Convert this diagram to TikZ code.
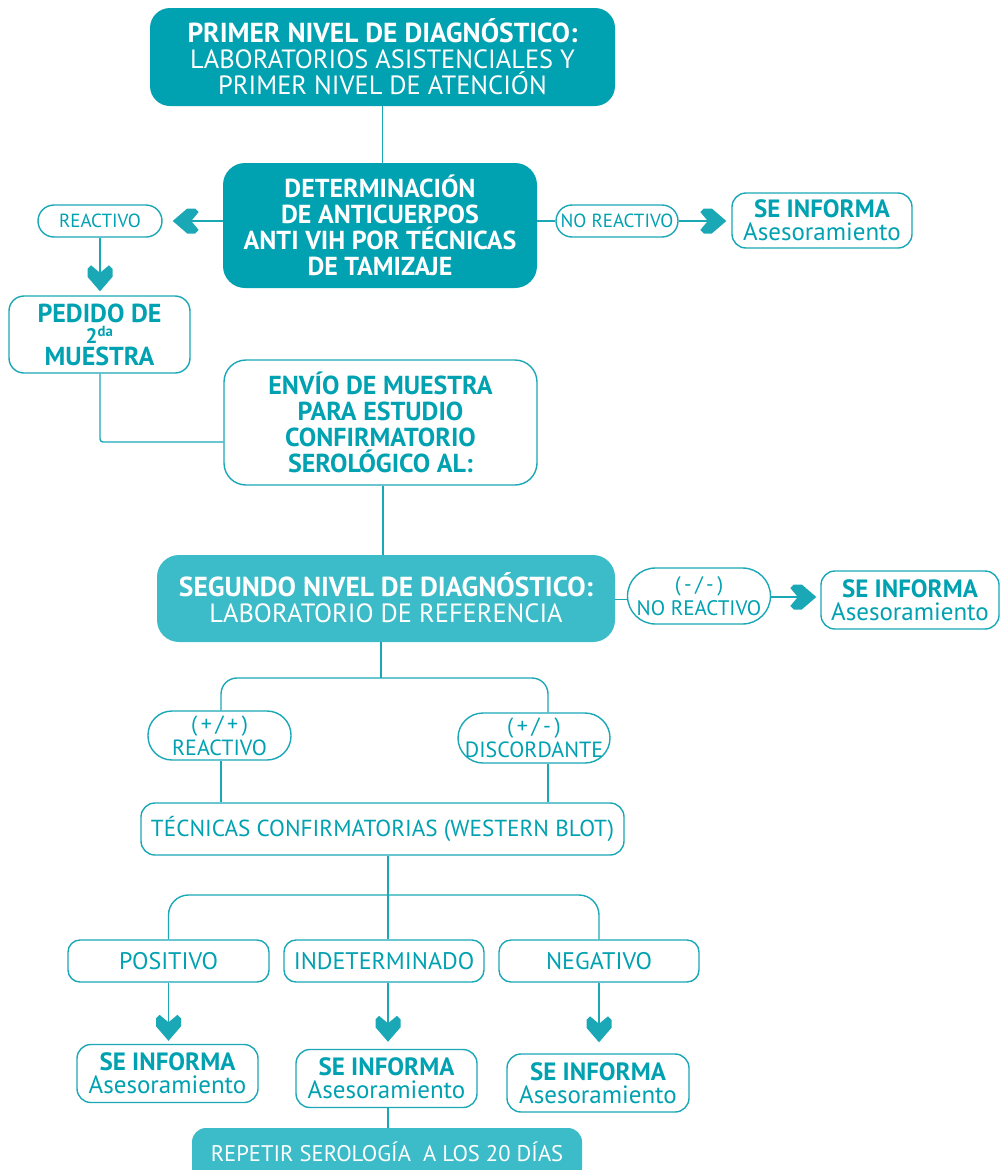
\documentclass[tikz,border=0pt]{standalone}
\usepackage{fontspec}
\setmainfont{PT Sans}
\usetikzlibrary{calc,arrows.meta}

\definecolor{tealdark}{HTML}{00A1B1}
\definecolor{teallight}{HTML}{3CBBC8}
\definecolor{tealline}{HTML}{1AA7B6}

% notched chevron tip used on every arrow
\pgfdeclarearrow{
  name = Chev,
  setup code = {
    \pgfarrowssettipend{0pt}
    \pgfarrowssetlineend{-17pt}
    \pgfarrowssetvisualbackend{-18.5pt}
    \pgfarrowssetbackend{-26pt}
    \pgfarrowsupperhullpoint{-26pt}{12.5pt}
    \pgfarrowsupperhullpoint{0pt}{0pt}
  },
  drawing code = {
    \pgfpathmoveto{\pgfpointorigin}
    \pgfpathlineto{\pgfpoint{-14.5pt}{12.5pt}}
    \pgfpathlineto{\pgfpoint{-22.5pt}{12.5pt}}
    \pgfpathlineto{\pgfpoint{-26pt}{9pt}}
    \pgfpathlineto{\pgfpoint{-18.5pt}{0pt}}
    \pgfpathlineto{\pgfpoint{-26pt}{-9pt}}
    \pgfpathlineto{\pgfpoint{-22.5pt}{-12.5pt}}
    \pgfpathlineto{\pgfpoint{-14.5pt}{-12.5pt}}
    \pgfpathclose
    \pgfusepathqfill
  }
}

\newcommand\fHead{\fontsize{27.5}{26}\selectfont\bfseries}
\newcommand\fHeadReg{\fontsize{26.4}{26}\selectfont}
\newcommand\fBlock{\fontsize{26}{26}\selectfont\bfseries}
\newcommand\fPill{\fontsize{19}{19}\selectfont}
\newcommand\fPillTwo{\fontsize{22}{24}\selectfont}
\newcommand\fInfoB{\fontsize{25}{23}\selectfont\bfseries}
\newcommand\fInfo{\fontsize{25}{23}\selectfont}
\newcommand\fRes{\fontsize{24}{26}\selectfont}

\tikzset{
  darkbox/.style={fill=tealdark, text=white, rounded corners=20pt, align=center, inner sep=0pt},
  lightbox/.style={fill=teallight, text=white, rounded corners=20pt, align=center, inner sep=0pt},
  outbox/.style={draw=tealline, line width=1.4pt, fill=white, text=tealdark, align=center,
    inner sep=0pt, rounded corners=14pt},
  pillbox/.style={outbox, rounded corners=#1},
  infobox/.style={outbox, font=\fInfo},
  conn/.style={draw=tealline, line width=1.4pt},
  arr/.style={conn, -{Chev}},
}

\begin{document}
\begin{tikzpicture}[x=1pt,y=-1pt]
\useasboundingbox (0,0) rectangle (999,1170);

% ---------- first level ----------
\node[darkbox, font=\fHeadReg, minimum width=465pt, minimum height=98pt] (top) at (382.5,57)
  {{\fHead PRIMER NIVEL DE DIAGNÓSTICO:}\\LABORATORIOS ASISTENCIALES Y\\PRIMER NIVEL DE ATENCIÓN};

\node[darkbox, font=\fBlock, rounded corners=22pt, minimum width=314pt, minimum height=125pt] (det) at (380,225.5)
  {DETERMINACIÓN\\DE ANTICUERPOS\\ANTI VIH POR TÉCNICAS\\DE TAMIZAJE};

\node[pillbox=16pt, font=\fPill, minimum width=124pt, minimum height=32pt] (reac) at (100,221) {REACTIVO};
\node[pillbox=16pt, font=\fPill, minimum width=122pt, minimum height=32pt] (noreac) at (617,221) {NO REACTIVO};

\node[infobox, minimum width=180pt, minimum height=55pt] (info1) at (822,220.5)
  {{\fInfoB SE INFORMA}\\Asesoramiento};

\node[outbox, font={\fontsize{26}{21.5}\selectfont\bfseries}, rounded corners=15pt,
  minimum width=181pt, minimum height=77pt] (pedido) at (99.5,334.5)
  {PEDIDO DE\\{\fontsize{21}{21.5}\selectfont 2\textsuperscript{da}}\\MUESTRA};

\node[outbox, font=\fBlock, rounded corners=22pt, minimum width=313pt, minimum height=125pt] (envio) at (380.5,422.5)
  {ENVÍO DE MUESTRA\\PARA ESTUDIO\\CONFIRMATORIO\\SEROLÓGICO AL:};

% ---------- second level ----------
\node[lightbox, font=\fHeadReg, rounded corners=22pt, minimum width=458pt, minimum height=87pt] (seg) at (386,598.5)
  {\raisebox{2pt}{\fHead SEGUNDO NIVEL DE DIAGNÓSTICO:}\\\raisebox{2pt}{LABORATORIO DE REFERENCIA}};

\node[pillbox=28pt, font={\fontsize{21}{24}\selectfont}, minimum width=143pt, minimum height=56pt] (noreac2) at (699,596)
  {(\,-\,/\,-\,)\\NO REACTIVO};
\node[infobox, minimum width=178pt, minimum height=58pt] (info2) at (910,600)
  {{\fInfoB SE INFORMA}\\Asesoramiento};

\node[pillbox=24pt, font=\fPillTwo, minimum width=143pt, minimum height=49pt] (rpos) at (219.5,735.5)
  {(\,+\,/\,+\,)\\REACTIVO};
\node[pillbox=25pt, font=\fPillTwo, minimum width=152pt, minimum height=50pt] (rdisc) at (534,738)
  {(\,+\,/\,-\,)\\DISCORDANTE};

\node[outbox, font={\fontsize{23.2}{26}\selectfont}, minimum width=483pt, minimum height=52pt] (tec) at (382.5,829)
  {TÉCNICAS CONFIRMATORIAS (WESTERN BLOT)};

\node[outbox, font=\fRes, rounded corners=12pt, minimum width=201pt, minimum height=42pt] (pos) at (168.5,961) {POSITIVO};
\node[outbox, font=\fRes, rounded corners=12pt, minimum width=200pt, minimum height=42pt] (ind) at (384,961) {INDETERMINADO};
\node[outbox, font=\fRes, rounded corners=12pt, minimum width=200pt, minimum height=42pt] (neg) at (599,961) {NEGATIVO};

\node[infobox, minimum width=181pt, minimum height=58pt] (i3) at (167.5,1073.5)
  {{\fInfoB SE INFORMA}\\Asesoramiento};
\node[infobox, minimum width=181pt, minimum height=58pt] (i4) at (386.5,1078.5)
  {{\fInfoB SE INFORMA}\\Asesoramiento};
\node[infobox, minimum width=182pt, minimum height=58pt] (i5) at (598,1083)
  {{\fInfoB SE INFORMA}\\Asesoramiento};

\node[lightbox, font={\fontsize{22.6}{26}\selectfont}, rounded corners=14pt, minimum width=390pt,
  minimum height=54pt, text depth=0pt] (rep) at (387,1155)
  {\raisebox{6pt}{REPETIR SEROLOGÍA\ \ A LOS 20 DÍAS}};

% ---------- connectors ----------
\draw[conn] (top.south) -- (det.north -| top.south);
\draw[arr, shorten >=10pt] (det.west |- reac.east) -- (reac.east);
\draw[arr, shorten >=4pt] (reac.south) -- (pedido.north -| reac.south);
\draw[conn, rounded corners=3pt] (pedido.south -| reac.south) |- ([yshift=-19.5pt]envio.west);
\draw[conn] (det.east |- noreac.west) -- (noreac.west);
\draw[arr, shorten >=5pt] (noreac.east) -- (info1.west |- noreac.east);
\draw[conn] ([xshift=2.5pt]envio.south) -- ([xshift=2.5pt]envio.south |- seg.north);

\draw[conn] ([yshift=-1pt]seg.east) -- ([yshift=-1pt]seg.east -| noreac2.west);
\draw[arr, shorten >=4pt] ([yshift=-1pt]noreac2.east) -- ([yshift=-1pt]noreac2.east -| info2.west);

\coordinate (busA) at (381,678);
\coordinate (discTop) at ($(rdisc.north)+(14,0)$);
\coordinate (discBot) at ($(rdisc.south)+(14,0)$);
\draw[conn] (seg.south -| busA) -- (busA);
\draw[conn, rounded corners=16pt] ([xshift=1.5pt]rpos.north) |- (busA) -| (discTop);
\draw[conn] ([xshift=1.5pt]rpos.south) -- ([xshift=1.5pt]rpos.south |- tec.north);
\draw[conn] (discBot) -- (discBot |- tec.north);

\coordinate (busB) at (388,895);
\draw[conn] (tec.south -| busB) -- (ind.north -| busB);
\draw[conn, rounded corners=20pt] (pos.north) |- (busB) -| (neg.north);

\draw[arr, shorten >=3pt] (pos.south) -- (i3.north -| pos.south);
\draw[arr, shorten >=7pt] (ind.south -| busB) -- (i4.north -| busB);
\draw[arr, shorten >=11pt] (neg.south) -- (i5.north -| neg.south);
\draw[conn] (i4.south -| busB) -- (rep.north -| busB);
\end{tikzpicture}
\end{document}
